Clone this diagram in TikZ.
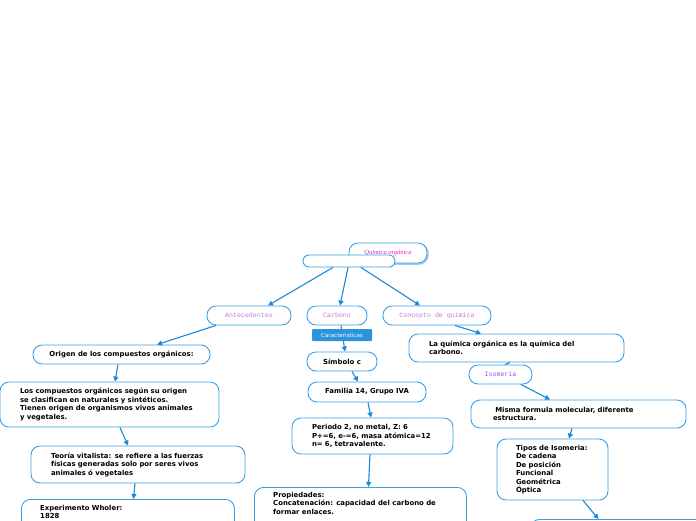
\documentclass[tikz,border=0pt]{standalone}
\usepackage{fontspec}
\setmainfont{DejaVu Sans}
\newfontfamily\monof{Liberation Mono}
\newfontfamily\titlef{Liberation Serif}
\usetikzlibrary{arrows.meta,calc}
\definecolor{boxblue}{HTML}{3DA0E6}
\definecolor{arrblue}{HTML}{1C8AD6}
\definecolor{shadblue}{HTML}{9CCFF2}
\definecolor{labpink}{HTML}{C77AD6}
\definecolor{isopurple}{HTML}{A64CF0}
\definecolor{titlemag}{HTML}{E020D0}
\definecolor{tagblue}{HTML}{2B94DC}
\tikzset{
  box/.style={draw=boxblue, line width=0.9pt, rounded corners=9pt, fill=white, inner sep=0pt},
  bt/.style={font=\fontsize{6.9}{8.5}\selectfont\bfseries, align=left},
  mono/.style={font=\fontsize{6.6}{8}\selectfont\monof, text=labpink},
  arr/.style={draw=arrblue, line width=1.1pt, -{Triangle[length=5pt,width=5pt]}},
  ln/.style={draw=arrblue, line width=1.1pt},
  tag/.style={fill=tagblue, text=white, rounded corners=1pt, inner sep=0pt, font=\fontsize{5.6}{7}\selectfont}
}
\begin{document}
\begin{tikzpicture}[x=1pt,y=-1pt]
\useasboundingbox (0,0) rectangle (696,520);
\clip (0,0) rectangle (696,520);
\fill[white] (0,0) rectangle (696,520);

% title with shadow
\draw[shadblue, line width=1.6pt, rounded corners=9pt] (350.5,244.5) rectangle (428,264);
\node[box, minimum width=78, minimum height=20] (title) at (388,253)
  {\titlef\itshape\fontsize{6.5}{8}\selectfont\color{titlemag}Química orgánica};
\node[box, rounded corners=6pt, minimum width=92, minimum height=12] (root) at (349,261) {};

% level 1
\node[box, minimum width=84, minimum height=19, mono] (ante) at (249,315.5) {Antecedentes};
\node[box, minimum width=60, minimum height=19, mono] (carb) at (337,315.5) {Carbono};
\node[box, minimum width=108, minimum height=19, mono] (conc) at (437,315.5) {Concepto de química};

% left branch
\node[box, minimum width=177, minimum height=19, bt, align=center] (orig) at (121.5,354.5) {Origen de los compuestos orgánicos:};
\node[box, minimum width=219, minimum height=45, bt, text width=179] (losc) at (109.5,404.5)
  {\mbox{Los compuestos orgánicos según su origen}\\\mbox{se clasifican en naturales y sintéticos.}\\\mbox{Tienen origen de organismos vivos animales}\\y vegetales.};
\node[box, minimum width=214, minimum height=37, bt, text width=174] (teor) at (138,464.5)
  {\mbox{Teoría vitalista: se refiere a las fuerzas}\\\mbox{físicas generadas solo por seres vivos}\\\mbox{animales ó vegetales}};
\node[box, anchor=north west, minimum width=213, minimum height=70] (expe) at (21,499) {};
\node[bt, anchor=north west, inner sep=0pt] (expt) at ($(expe.north west)+(19,6)$) {Experimento Wholer:\\1828};

% middle branch
\node[box, minimum width=70, minimum height=19, bt, align=center] (simb) at (342,361.5) {Símbolo c};
\node[box, minimum width=118, minimum height=20, bt, align=center] (fami) at (367,392) {Familia 14, Grupo IVA};
\node[box, minimum width=161, minimum height=36, bt, text width=121] (peri) at (372.5,436)
  {\mbox{Periodo 2, no metal, Z: 6}\\\mbox{P+=6, e-=6, masa atómica=12}\\\mbox{n= 6, tetravalente.}};
\node[box, anchor=north west, minimum width=212, minimum height=70] (prop) at (254,487) {};
\node[bt, anchor=north west, inner sep=0pt] (propt) at ($(prop.north west)+(19,5)$)
  {Propiedades:\\Concatenación: capacidad del carbono de\\formar enlaces.};

% right branch
\node[box, minimum width=215, minimum height=28, bt, text width=175] (laq) at (516.5,348)
  {\mbox{La química orgánica es la química del}\\carbono.};
\node[box, minimum width=63, minimum height=19, mono, text=isopurple] (isom) at (500.5,374.5) {Isomeria};
\node[box, minimum width=215, minimum height=28, bt, text width=171] (mism) at (578.5,414)
  {\mbox{ Misma formula molecular, diferente}\\estructura.};
\node[box, minimum width=111, minimum height=61, bt, text width=73] (tipo) at (552.5,469.5)
  {\mbox{Tipos de Isomeria:}\\De cadena\\De posición\\Funcional\\Geométrica\\Óptica};
\node[box, anchor=north west, minimum width=300, minimum height=60] (bott) at (530,519) {};

% connectors
\draw[arr] ([xshift=-16pt]root.south) -- ([xshift=19pt]ante.north);
\draw[arr] ([xshift=-1pt]root.south) -- ([xshift=3pt]carb.north);
\draw[arr] ([xshift=12pt]root.south) -- ([xshift=-17pt]conc.north);
\draw[arr] ([xshift=-33pt]ante.south) -- ([xshift=35.5pt]orig.north);
\draw[arr] ([xshift=4pt]carb.south) -- ([xshift=3pt]simb.north);
\draw[arr] ([xshift=18pt]conc.south) -- ([xshift=-35.5pt]laq.north);
\draw[arr] ([xshift=-3.5pt]orig.south) -- ([xshift=5.5pt]losc.north);
\draw[arr] ([xshift=10.5pt]losc.south) -- ([xshift=-10pt]teor.north);
\draw[arr] ([xshift=-3pt]teor.south) -- ([xshift=5.5pt]expe.north);
\draw[arr] ([xshift=10pt]simb.south) -- ([xshift=-9pt]fami.north);
\draw[arr] ([xshift=1pt]fami.south) -- ([xshift=-1.5pt]peri.north);
\draw[arr] ([xshift=-2.5pt]peri.south) -- ([xshift=8pt]prop.north);
\draw[ln] ([xshift=-6.5pt]laq.south) -- ([xshift=4.5pt]isom.north);
\draw[arr] ([xshift=20.5pt]isom.south) -- ([xshift=-28.5pt]mism.north);
\draw[arr] ([xshift=-6.5pt]mism.south) -- ([xshift=16.5pt]tipo.north);
\draw[arr] ([xshift=30.5pt]tipo.south) -- ([xshift=-82pt]bott.north);

% tag on carbono connector
\node[tag, minimum width=60, minimum height=12] (cara) at (342,335) {Caracteristicas};
\end{tikzpicture}
\end{document}
